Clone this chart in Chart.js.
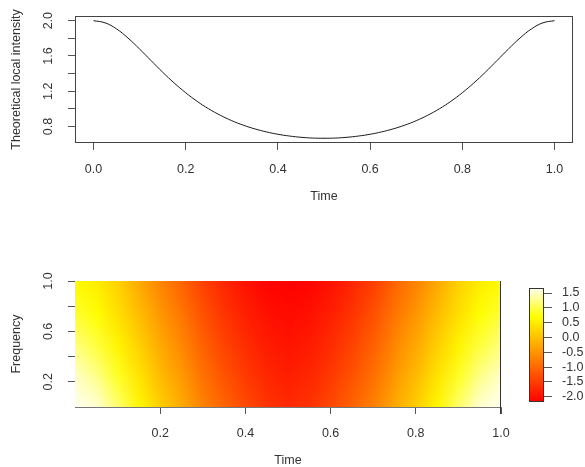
<!DOCTYPE html>
<html>
<head>
<meta charset="utf-8">
<script src="https://cdn.jsdelivr.net/npm/chart.js@4.4.1/dist/chart.umd.min.js"></script>
<style>
  body { margin: 0; background: #fff; overflow: hidden; }
  #wrap { position: relative; width: 585px; height: 467px; }
  canvas { position: absolute; }
</style>
</head>
<body>
<div id="wrap">
  <canvas id="topChart" width="585" height="230" style="left:0;top:0"></canvas>
  <canvas id="heatChart" width="585" height="237" style="left:0;top:230px"></canvas>
  <canvas id="barChart" width="65" height="128" style="left:520px;top:281px"></canvas>
</div>
<script>
// Datos
const lineTimes = [0, 0.025, 0.05, 0.075, 0.1, 0.125, 0.15, 0.175, 0.2, 0.225, 0.25,
                   0.275, 0.3, 0.325, 0.35, 0.375, 0.4, 0.425, 0.45, 0.475, 0.5,
                   0.525, 0.55, 0.575, 0.6, 0.625, 0.65, 0.675, 0.7, 0.725, 0.75,
                   0.775, 0.8, 0.825, 0.85, 0.875, 0.9, 0.925, 0.95, 0.975, 1.0];
const intensity = [2.000, 1.976, 1.907, 1.803, 1.679, 1.547, 1.416, 1.294, 1.183, 1.085, 1.000,
                   0.928, 0.866, 0.815, 0.773, 0.739, 0.712, 0.692, 0.678, 0.669, 0.667,
                   0.669, 0.678, 0.692, 0.712, 0.739, 0.773, 0.815, 0.866, 0.928, 1.000,
                   1.085, 1.183, 1.294, 1.416, 1.547, 1.679, 1.803, 1.907, 1.976, 2.000];

const topXTicks = [0, 0.2, 0.4, 0.6, 0.8, 1.0];
const topYTicks = [0.8, 1.0, 1.2, 1.4, 1.6, 1.8, 2.0];
const topYLabels = [0.8, 1.2, 1.6, 2.0];

// Superficie tiempo-frecuencia (filas de arriba a abajo)
const times = [0, 0.05, 0.1, 0.15, 0.2, 0.25, 0.3, 0.35, 0.4, 0.45, 0.5,
               0.55, 0.6, 0.65, 0.7, 0.75, 0.8, 0.85, 0.9, 0.95, 1.0];
const freqs = [1.0, 0.75, 0.5, 0.25, 0.0];
const zF100 = [0.65, 0.50, 0.20, -0.25, -0.68, -1.05, -1.45, -1.75, -1.98, -2.12, -2.17,
               -2.12, -1.98, -1.75, -1.45, -1.05, -0.68, -0.25, 0.20, 0.50, 0.68];
const zF075 = [0.90, 0.70, 0.35, -0.05, -0.48, -0.85, -1.27, -1.59, -1.83, -2.00, -2.06,
               -2.00, -1.83, -1.59, -1.27, -0.85, -0.48, -0.05, 0.35, 0.70, 0.92];
const zF050 = [1.20, 0.95, 0.58, 0.17, -0.27, -0.65, -1.08, -1.42, -1.68, -1.87, -1.95,
               -1.87, -1.68, -1.42, -1.08, -0.65, -0.27, 0.17, 0.58, 0.95, 1.21];
const zF025 = [1.50, 1.25, 0.85, 0.40, -0.06, -0.45, -0.90, -1.24, -1.52, -1.74, -1.83,
               -1.74, -1.52, -1.24, -0.90, -0.45, -0.06, 0.40, 0.85, 1.25, 1.50];
const zF000 = [1.67, 1.55, 1.15, 0.64, 0.16, -0.25, -0.70, -1.05, -1.35, -1.60, -1.70,
               -1.60, -1.35, -1.05, -0.70, -0.25, 0.16, 0.64, 1.15, 1.55, 1.67];

const heatXTicks = [0.2, 0.4, 0.6, 0.8, 1.0];
const heatYTicks = [0.2, 0.4, 0.6, 0.8, 1.0];
const heatYLabels = [0.2, 0.6, 1.0];

const zMin = -2.18;
const zMax = 1.67;
const barTicks = [-2.0, -1.5, -1.0, -0.5, 0.0, 0.5, 1.0, 1.5];

const font = { family: 'Liberation Sans, Arial, sans-serif', size: 12.5 };
const textColor = '#333';
const tickColor = '#555';

// Paleta tipo heat.colors de R
function heatColor(v) {
    let p = (v - zMin) / (zMax - zMin);
    p = Math.min(1, Math.max(0, p));
    if (p <= 0.75) {
        return [255, Math.round(255 * p / 0.75), 0];
    }
    const s = 1 - ((p - 0.75) / 0.25) * 0.95;
    return [255, 255, Math.round(255 * (1 - s))];
}

// Marco alrededor del área del gráfico
const framePlugin = {
    id: 'frame',
    afterDraw(chart, args, opts) {
        const a = chart.chartArea;
        const ctx = chart.ctx;
        ctx.save();
        ctx.strokeStyle = opts.color || '#333';
        ctx.lineWidth = 1;
        if (opts.sides === 'right') {
            ctx.beginPath();
            ctx.moveTo(Math.round(a.right) - 0.5, a.top);
            ctx.lineTo(Math.round(a.right) - 0.5, a.bottom + 7);
            ctx.stroke();
        } else {
            ctx.strokeRect(Math.round(a.left) + 0.5, Math.round(a.top) + 0.5,
                Math.round(a.right - a.left) - 1, Math.round(a.bottom - a.top) - 1);
        }
        ctx.restore();
    }
};

// Etiquetas del eje Y giradas (estilo R)
const rotLabelsPlugin = {
    id: 'rotLabels',
    afterDraw(chart, args, opts) {
        const y = chart.scales.y;
        const ctx = chart.ctx;
        ctx.save();
        ctx.font = `${font.size}px ${font.family}`;
        ctx.fillStyle = textColor;
        ctx.textAlign = 'center';
        ctx.textBaseline = 'middle';
        opts.values.forEach(v => {
            ctx.save();
            ctx.translate(opts.x, y.getPixelForValue(v));
            ctx.rotate(-Math.PI / 2);
            ctx.fillText(v.toFixed(1), 0, 0);
            ctx.restore();
        });
        ctx.restore();
    }
};

// Mapa de calor dibujado desde la matriz a través de las escalas
const heatmapPlugin = {
    id: 'heatmap',
    beforeDraw(chart) {
        const rows = [zF100, zF075, zF050, zF025, zF000];
        const cols = times.length;
        const off = document.createElement('canvas');
        off.width = cols;
        off.height = rows.length;
        const octx = off.getContext('2d');
        const img = octx.createImageData(cols, rows.length);
        rows.forEach((row, j) => {
            row.forEach((v, i) => {
                const c = heatColor(v);
                const k = (j * cols + i) * 4;
                img.data[k] = c[0];
                img.data[k + 1] = c[1];
                img.data[k + 2] = c[2];
                img.data[k + 3] = 255;
            });
        });
        octx.putImageData(img, 0, 0);

        const xs = chart.scales.x;
        const ys = chart.scales.y;
        const dt = times[1] - times[0];
        const df = freqs[0] - freqs[1];
        const x0 = xs.getPixelForValue(times[0] - dt / 2);
        const x1 = xs.getPixelForValue(times[cols - 1] + dt / 2);
        const y0 = ys.getPixelForValue(freqs[0] + df / 2);
        const y1 = ys.getPixelForValue(freqs[freqs.length - 1] - df / 2);
        const a = chart.chartArea;
        const ctx = chart.ctx;
        ctx.save();
        ctx.beginPath();
        ctx.rect(a.left, a.top, a.right - a.left, a.bottom - a.top);
        ctx.clip();
        ctx.imageSmoothingEnabled = true;
        ctx.imageSmoothingQuality = 'low';
        ctx.drawImage(off, x0, y0, x1 - x0, y1 - y0);
        ctx.restore();
    }
};

// Barra de colores
const colorBarPlugin = {
    id: 'colorBar',
    beforeDraw(chart) {
        const ys = chart.scales.y;
        const a = chart.chartArea;
        const ctx = chart.ctx;
        const yTop = ys.getPixelForValue(zMax);
        const yBot = ys.getPixelForValue(zMin);
        const grad = ctx.createLinearGradient(0, yBot, 0, yTop);
        const n = 40;
        for (let i = 0; i <= n; i++) {
            const v = zMin + (zMax - zMin) * i / n;
            const c = heatColor(v);
            grad.addColorStop(i / n, `rgb(${c[0]},${c[1]},${c[2]})`);
        }
        ctx.save();
        ctx.fillStyle = grad;
        ctx.fillRect(a.left, yTop, a.right - a.left, yBot - yTop);
        ctx.strokeStyle = '#333';
        ctx.lineWidth = 1;
        ctx.strokeRect(Math.round(a.left) + 0.5, Math.round(yTop) + 0.5,
            Math.round(a.right - a.left) - 1, Math.round(yBot - yTop) - 1);
        ctx.restore();
    }
};

const tickFormat = v => Number(v).toFixed(1);

// Gráfico superior: intensidad local teórica
new Chart(document.getElementById('topChart'), {
    type: 'line',
    data: {
        datasets: [{
            data: lineTimes.map((t, i) => ({ x: t, y: intensity[i] })),
            borderColor: '#1a1a1a',
            borderWidth: 1,
            pointRadius: 0,
            tension: 0.4,
            fill: false
        }]
    },
    options: {
        responsive: false,
        animation: false,
        events: [],
        layout: { padding: { left: 0, top: 16, right: 12, bottom: 0 } },
        plugins: {
            legend: { display: false },
            tooltip: { enabled: false },
            frame: { color: '#444' },
            rotLabels: { values: topYLabels, x: 49 }
        },
        scales: {
            x: {
                type: 'linear',
                min: -0.04,
                max: 1.04,
                afterBuildTicks: s => { s.ticks = topXTicks.map(v => ({ value: v })); },
                afterFit: s => { s.height = 87; },
                grid: { drawOnChartArea: false, tickLength: 7, tickColor: tickColor },
                border: { display: false },
                ticks: { color: textColor, font: font, padding: 12, maxRotation: 0, autoSkip: false, callback: tickFormat },
                title: { display: true, text: 'Time', color: textColor, font: font, padding: { top: 0, bottom: 26 } }
            },
            y: {
                type: 'linear',
                min: 0.613,
                max: 2.053,
                afterBuildTicks: s => { s.ticks = topYTicks.map(v => ({ value: v })); },
                afterFit: s => { s.width = 75; },
                grid: { drawOnChartArea: false, tickLength: 7, tickColor: tickColor },
                border: { display: false },
                ticks: { display: false },
                title: { display: true, text: 'Theoretical local intensity', color: textColor, font: font, padding: { top: 9, bottom: 0 } }
            }
        }
    },
    plugins: [framePlugin, rotLabelsPlugin]
});

// Gráfico inferior: mapa tiempo-frecuencia
new Chart(document.getElementById('heatChart'), {
    type: 'scatter',
    data: { datasets: [] },
    options: {
        responsive: false,
        animation: false,
        events: [],
        layout: { padding: { left: 0, top: 51, right: 84, bottom: 0 } },
        plugins: {
            legend: { display: false },
            tooltip: { enabled: false },
            frame: { color: '#333', sides: 'right' },
            rotLabels: { values: heatYLabels, x: 49 }
        },
        scales: {
            x: {
                type: 'linear',
                min: 0,
                max: 1,
                afterBuildTicks: s => { s.ticks = heatXTicks.map(v => ({ value: v })); },
                afterFit: s => { s.height = 60; },
                grid: { drawOnChartArea: false, tickLength: 7, tickColor: tickColor },
                border: { display: true, color: '#777' },
                ticks: { color: textColor, font: font, padding: 12, maxRotation: 0, autoSkip: false, callback: tickFormat },
                title: { display: true, text: 'Time', color: textColor, font: Object.assign({}, font, { lineHeight: 1 }), padding: { top: 0, bottom: 0 } }
            },
            y: {
                type: 'linear',
                min: 0,
                max: 1,
                afterBuildTicks: s => { s.ticks = heatYTicks.map(v => ({ value: v })); },
                afterFit: s => { s.width = 75; },
                grid: { drawOnChartArea: false, tickLength: 7, tickColor: tickColor },
                border: { display: false },
                ticks: { display: false },
                title: { display: true, text: 'Frequency', color: textColor, font: font, padding: { top: 9, bottom: 0 } }
            }
        }
    },
    plugins: [heatmapPlugin, framePlugin, rotLabelsPlugin]
});

// Leyenda de colores
new Chart(document.getElementById('barChart'), {
    type: 'scatter',
    data: { datasets: [] },
    options: {
        responsive: false,
        animation: false,
        events: [],
        layout: { padding: { left: 9, top: 7, right: 0, bottom: 7 } },
        plugins: { legend: { display: false }, tooltip: { enabled: false } },
        scales: {
            x: { type: 'linear', display: false, min: 0, max: 1 },
            y: {
                type: 'linear',
                position: 'right',
                min: zMin,
                max: zMax,
                afterBuildTicks: s => { s.ticks = barTicks.map(v => ({ value: v })); },
                afterFit: s => { s.width = 41; s.paddingTop = 0; s.paddingBottom = 0; },
                grid: { drawOnChartArea: false, tickLength: 8, tickColor: tickColor },
                border: { display: false },
                ticks: { color: textColor, font: font, padding: 10, autoSkip: false, callback: tickFormat }
            }
        }
    },
    plugins: [colorBarPlugin]
});
</script>
</body>
</html>
